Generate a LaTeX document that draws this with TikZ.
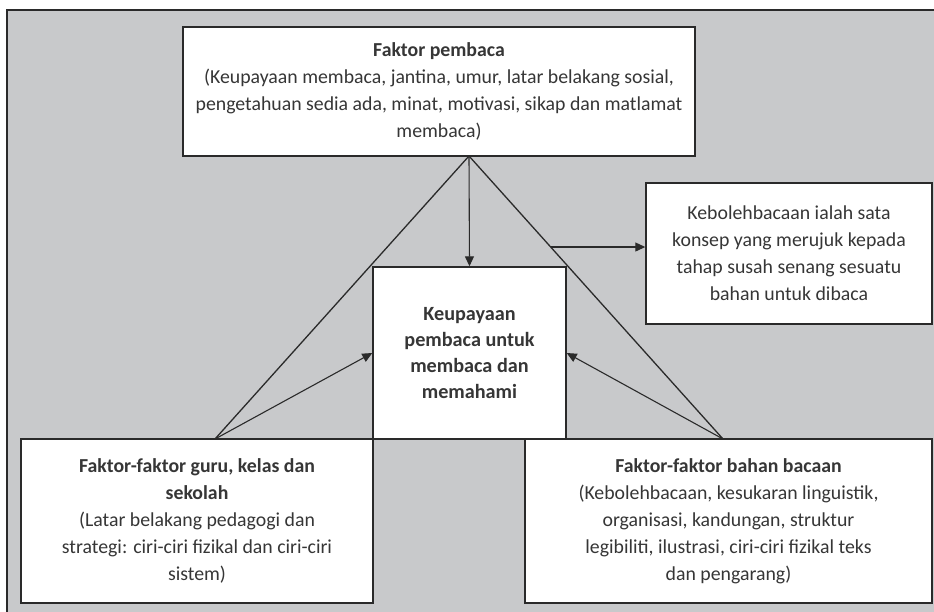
\documentclass[tikz,border=0pt]{standalone}
\usepackage{fontspec}
\setmainfont{Carlito}
\usetikzlibrary{calc,arrows.meta}
\definecolor{bggray}{HTML}{C8C9CB}
\definecolor{linec}{HTML}{2A2A2A}
\definecolor{txtc}{HTML}{363636}
\tikzset{
  boxstyle/.style={draw=linec, line width=1.4pt, fill=white, align=center, text=txtc,
    font=\fontsize{19.8}{27}\selectfont, inner sep=0pt},
  tri/.style={draw=linec, line width=1.3pt},
  arr/.style={draw=linec, line width=1.1pt, -{Triangle[length=10pt,width=9pt]}}
}
\begin{document}
\begin{tikzpicture}[x=1pt,y=-1pt]
\useasboundingbox (0,0) rectangle (934,612);
\fill[bggray] (7,10) rectangle (934,612);
\draw[linec, line width=1.5pt] (7,612) -- (7,10) -- (934,10);
% key points
\coordinate (apex) at (469,156);
\coordinate (lb) at (215,439);
\coordinate (rb) at (723,439);
\draw[tri] (lb) -- (apex) -- (rb);
% boxes
\node[boxstyle, minimum width=512pt, minimum height=129pt] (top) at (439,91.5)
 {\textbf{Faktor pembaca}\\(Keupayaan membaca, jantina, umur, latar belakang sosial,\\pengetahuan sedia ada, minat, motivasi, sikap dan matlamat\\membaca)};
\node[boxstyle, minimum width=286pt, minimum height=141pt] (rt) at (789,253.5)
 {Kebolehbacaan ialah sata\\konsep yang merujuk kepada\\tahap susah senang sesuatu\\bahan untuk dibaca};
\node[boxstyle, minimum width=193pt, minimum height=172pt, font=\fontsize{20.2}{25.7}\selectfont\bfseries] (mid) at (469.5,353)
 {Keupayaan\\pembaca untuk\\membaca dan\\memahami};
\node[boxstyle, minimum width=352pt, minimum height=164pt] (bl) at (197,521)
 {\textbf{Faktor-faktor guru, kelas dan}\\\textbf{sekolah}\\(Latar belakang pedagogi dan\\strategi: ciri-ciri fizikal dan ciri-ciri\\sistem)};
\node[boxstyle, minimum width=407pt, minimum height=164pt] (br) at (728.5,521)
 {\textbf{Faktor-faktor bahan bacaan}\\(Kebolehbacaan, kesukaran linguistik,\\organisasi, kandungan, struktur\\legibiliti, ilustrasi, ciri-ciri fizikal teks\\dan pengarang)};
% arrows
\draw[arr] (apex) -- (mid.north);
\draw[arr] (lb) -- (mid.west);
\draw[arr] (rb) -- (mid.east);
\coordinate (tp) at ($(apex)!0.3216!(rb)$);
\draw[arr] (tp) -- (tp -| rt.west);
\end{tikzpicture}
\end{document}
